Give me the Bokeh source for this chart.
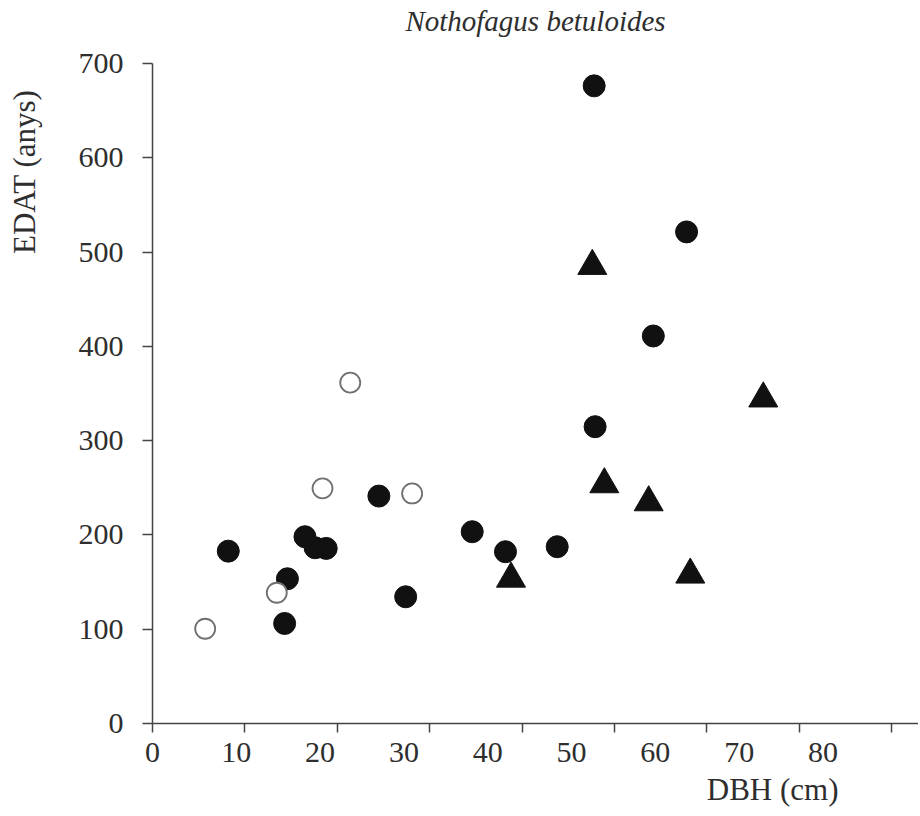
from bokeh.plotting import figure
from bokeh.models import Range1d, FixedTicker, Title, LinearAxis
from bokeh.embed import file_html
from bokeh.resources import INLINE

# ---- data ----
title_text = "Nothofagus betuloides"
x_title = "DBH (cm)"
y_title = "EDAT (anys)"

x_tick_values = [0, 10, 20, 30, 40, 50, 60, 70, 80]
x_tick_labels = ["0", "10", "20", "30", "40", "50", "60", "70", "80"]
y_tick_values = [0, 100, 200, 300, 400, 500, 600, 700]

# filled circles
filled_x = [24.5, 8.2, 16.5, 17.6, 18.8, 14.6, 14.3, 27.4, 47.8, 57.8, 54.2, 47.9, 34.6, 38.2, 43.8]
filled_y = [241.2, 182.8, 198.1, 186.4, 185.7, 153.5, 106.1, 134.4, 676.3, 521.4, 411.0, 314.8, 203.4, 182.2, 187.5]

# filled triangles
tri_x = [47.6, 66.1, 48.9, 53.7, 38.8, 58.2]
tri_y = [485.2, 344.6, 253.6, 234.5, 153.5, 157.8]

# open circles
open_x = [21.4, 18.4, 28.1, 13.45, 5.7]
open_y = [361.5, 249.4, 244.0, 138.7, 100.5]

# ---- layout / style ----
FONT = "Liberation Serif"
TXT = "#2e2e2e"
AX = "#444444"
label_compress = 0.907  # printed tick labels sit slightly left of the tick marks

p = figure(width=918, height=812, output_backend="svg", toolbar_location=None,
           x_range=Range1d(0, 82.9), y_range=Range1d(0, 700),
           min_border_left=152, min_border_right=0, min_border_top=63, min_border_bottom=89)
p.title = None

p.grid.visible = False
p.outline_line_color = None
p.background_fill_color = "white"
p.border_fill_color = "white"

label_pos = [round(v * label_compress, 3) for v in x_tick_values]
p.xaxis.ticker = FixedTicker(ticks=label_pos, minor_ticks=x_tick_values)
p.xaxis.major_label_overrides = {pos: lab for pos, lab in zip(label_pos, x_tick_labels)}
p.xaxis.major_tick_line_color = None
p.xaxis.major_tick_out = 9
p.xaxis.major_tick_in = 0
p.xaxis.minor_tick_line_color = AX
p.xaxis.minor_tick_line_width = 1.5
p.xaxis.minor_tick_out = 9
p.xaxis.minor_tick_in = 0
p.xaxis.major_label_standoff = 10

p.yaxis.ticker = FixedTicker(ticks=y_tick_values)
p.yaxis.major_tick_out = 10
p.yaxis.major_tick_in = 0
p.yaxis.major_tick_line_color = AX
p.yaxis.major_tick_line_width = 1.5
p.yaxis.minor_tick_line_color = None
p.yaxis.major_label_standoff = 19

for ax in (p.xaxis, p.yaxis):
    ax.axis_line_color = AX
    ax.axis_line_width = 1.5
    ax.major_label_text_font = FONT
    ax.major_label_text_font_size = "30px"
    ax.major_label_text_color = TXT


def spacer(px, at):
    """Invisible axis used only to reserve space between an axis and a title."""
    return LinearAxis(ticker=FixedTicker(ticks=[at]), major_label_overrides={at: " "},
                      major_label_text_font_size="1px", major_label_text_color=None,
                      axis_line_color=None, major_tick_line_color=None, minor_tick_line_color=None,
                      major_tick_out=px, major_tick_in=0, minor_tick_out=0, minor_tick_in=0,
                      major_label_standoff=0)


p.add_layout(spacer(25, 40), "above")
p.add_layout(Title(text=title_text, align="center", standoff=4, text_font=FONT,
                   text_font_style="italic", text_font_size="29px", text_color=TXT), "above")

p.add_layout(spacer(34, 350), "left")
p.add_layout(Title(text=y_title, align="right", offset=26, standoff=0, text_font=FONT,
                   text_font_style="normal", text_font_size="31px", text_color=TXT), "left")

p.add_layout(Title(text=x_title, align="right", offset=80, text_font=FONT,
                   text_font_style="normal", text_font_size="31px", text_color=TXT), "below")

p.scatter(filled_x, filled_y, marker="circle", size=22, fill_color="#111111", line_color="#111111")
p.scatter(tri_x, tri_y, marker="triangle", size=29, fill_color="#111111", line_color="#111111")
p.scatter(open_x, open_y, marker="circle", size=20, fill_color="white", line_color="#707070", line_width=1.8)

open("out.html", "w").write(file_html(p, INLINE))
